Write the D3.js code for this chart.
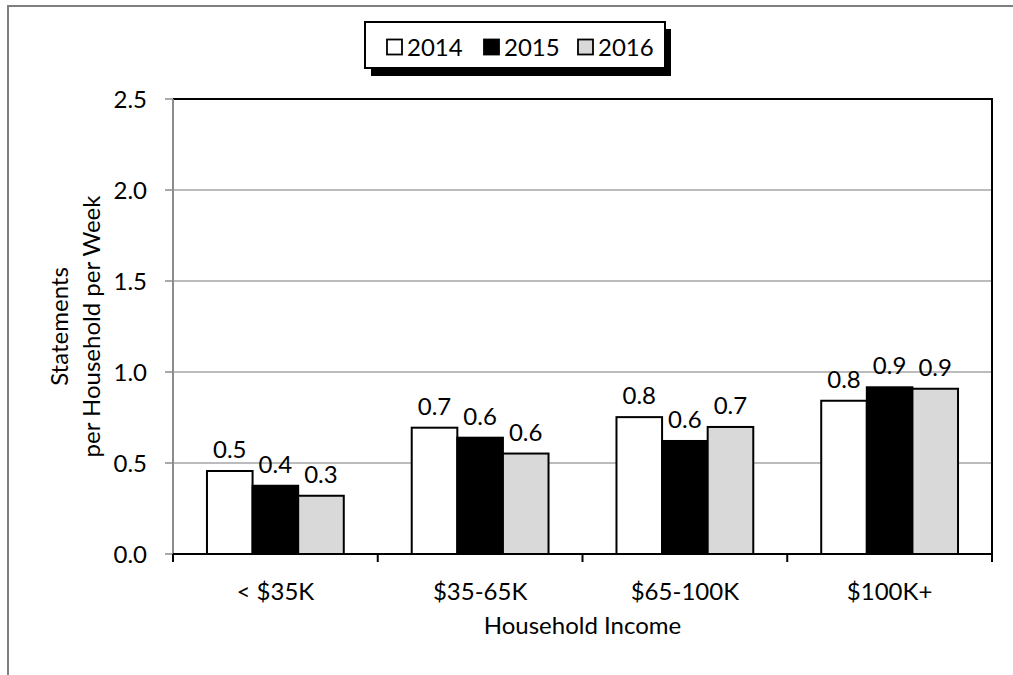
<!DOCTYPE html>
<html>
<head>
<meta charset="utf-8">
<script src="https://cdn.jsdelivr.net/npm/d3@7"></script>
<style>
  html, body { margin: 0; padding: 0; background: #fff; }
  svg { display: block; font-family: Lato, "Open Sans", sans-serif; }
</style>
</head>
<body>
<svg id="chart" width="1013" height="675"></svg>
<script>
const categories = ["< $35K", "$35-65K", "$65-100K", "$100K+"];
const years = ["2014", "2015", "2016"];
const values2014 = [0.456, 0.694, 0.752, 0.842];
const values2015 = [0.375, 0.639, 0.621, 0.916];
const values2016 = [0.320, 0.552, 0.698, 0.908];
const yTicks = [0, 0.5, 1.0, 1.5, 2.0, 2.5];
const yTitleLines = ["Statements", "per Household per Week"];
const xTitle = "Household Income";

(function () {
const seriesValues = [values2014, values2015, values2016];
const fills = ["#ffffff", "#000000", "#d9d9d9"];

const svg = d3.select("#chart");
const pLeft = 173, pRight = 992, pTop = 99, pBottom = 554;
const font = 24;

// outer chart border (clipped at right/bottom)
svg.append("path")
  .attr("d", `M8,${675 + 5} L8,6 L${1013 + 5},6`)
  .attr("fill", "none").attr("stroke", "#7f7f7f").attr("stroke-width", 2);

const y = d3.scaleLinear().domain([0, 2.5]).range([pBottom, pTop]);
const x0 = d3.scaleBand().domain(categories).range([pLeft, pRight]).padding(0);
const x1 = d3.scaleBand().domain(years).range([0, x0.bandwidth()]).paddingInner(0).paddingOuter(0.745);

// gridlines
svg.append("g").selectAll("line").data(yTicks.filter(d => d > 0)).join("line")
  .attr("x1", pLeft).attr("x2", pRight)
  .attr("y1", d => y(d)).attr("y2", d => y(d))
  .attr("stroke", "#a6a6a6").attr("stroke-width", 1.5);

// plot area top & right border
svg.append("path")
  .attr("d", `M${pLeft},${y(2.5)} L${pRight},${y(2.5)} L${pRight},${pBottom}`)
  .attr("fill", "none").attr("stroke", "#000").attr("stroke-width", 2);

// y axis line and ticks (gray)
svg.append("line").attr("x1", pLeft).attr("x2", pLeft).attr("y1", pTop).attr("y2", pBottom)
  .attr("stroke", "#8c8c8c").attr("stroke-width", 2);
svg.append("g").selectAll("line").data(yTicks).join("line")
  .attr("x1", pLeft - 8).attr("x2", pLeft)
  .attr("y1", d => y(d)).attr("y2", d => y(d))
  .attr("stroke", "#8c8c8c").attr("stroke-width", 1.5);
svg.append("g").selectAll("text").data(yTicks).join("text")
  .attr("x", 147).attr("y", d => y(d)).attr("dy", "0.36em")
  .attr("text-anchor", "end").attr("font-size", font).attr("fill", "#000")
  .text(d => d3.format(".1f")(d));

// bars
const groups = svg.append("g").selectAll("g").data(categories).join("g")
  .attr("transform", c => `translate(${x0(c)},0)`);
years.forEach((yr, si) => {
  groups.append("rect")
    .attr("x", x1(yr))
    .attr("width", x1.bandwidth())
    .attr("y", (c, ci) => y(seriesValues[si][ci]))
    .attr("height", (c, ci) => pBottom - y(seriesValues[si][ci]))
    .attr("fill", fills[si]).attr("stroke", "#000").attr("stroke-width", 2);
  groups.append("text")
    .attr("x", x1(yr) + x1.bandwidth() / 2)
    .attr("y", (c, ci) => y(seriesValues[si][ci]) - 13)
    .attr("text-anchor", "middle").attr("font-size", font).attr("fill", "#000")
    .text((c, ci) => d3.format(".1f")(seriesValues[si][ci]));
});

// x axis
svg.append("line").attr("x1", pLeft).attr("x2", pRight).attr("y1", pBottom).attr("y2", pBottom)
  .attr("stroke", "#000").attr("stroke-width", 2);
const xTickPos = categories.map(c => x0(c)).concat([pRight]);
svg.append("g").selectAll("line").data(xTickPos).join("line")
  .attr("x1", d => d).attr("x2", d => d).attr("y1", pBottom).attr("y2", pBottom + 8)
  .attr("stroke", "#000").attr("stroke-width", 2);
svg.append("g").selectAll("text").data(categories).join("text")
  .attr("x", c => x0(c) + x0.bandwidth() / 2).attr("y", 600)
  .attr("text-anchor", "middle").attr("font-size", font).attr("fill", "#000")
  .text(c => c);

// axis titles
svg.append("text").attr("x", (pLeft + pRight) / 2).attr("y", 634)
  .attr("text-anchor", "middle").attr("font-size", font).attr("fill", "#000").text(xTitle);
const yt = svg.append("text")
  .attr("transform", `translate(0,${(pTop + pBottom) / 2}) rotate(-90)`)
  .attr("text-anchor", "middle").attr("font-size", font).attr("fill", "#000");
yt.append("tspan").attr("x", 0).attr("y", 68).text(yTitleLines[0]);
yt.append("tspan").attr("x", 0).attr("y", 100).text(yTitleLines[1]);

// legend
const lg = svg.append("g");
lg.append("rect").attr("x", 371).attr("y", 29).attr("width", 300).attr("height", 47).attr("fill", "#000");
lg.append("rect").attr("x", 365).attr("y", 22).attr("width", 300).attr("height", 46)
  .attr("fill", "#fff").attr("stroke", "#000").attr("stroke-width", 2);
const legX = [387, 484, 578];
years.forEach((yr, i) => {
  lg.append("rect").attr("x", legX[i]).attr("y", 39.5).attr("width", 15).attr("height", 15)
    .attr("fill", fills[i]).attr("stroke", "#000").attr("stroke-width", 1.8);
  lg.append("text").attr("x", legX[i] + 20).attr("y", 55.5)
    .attr("font-size", font).attr("fill", "#000").text(yr);
});
})();
</script>
</body>
</html>
